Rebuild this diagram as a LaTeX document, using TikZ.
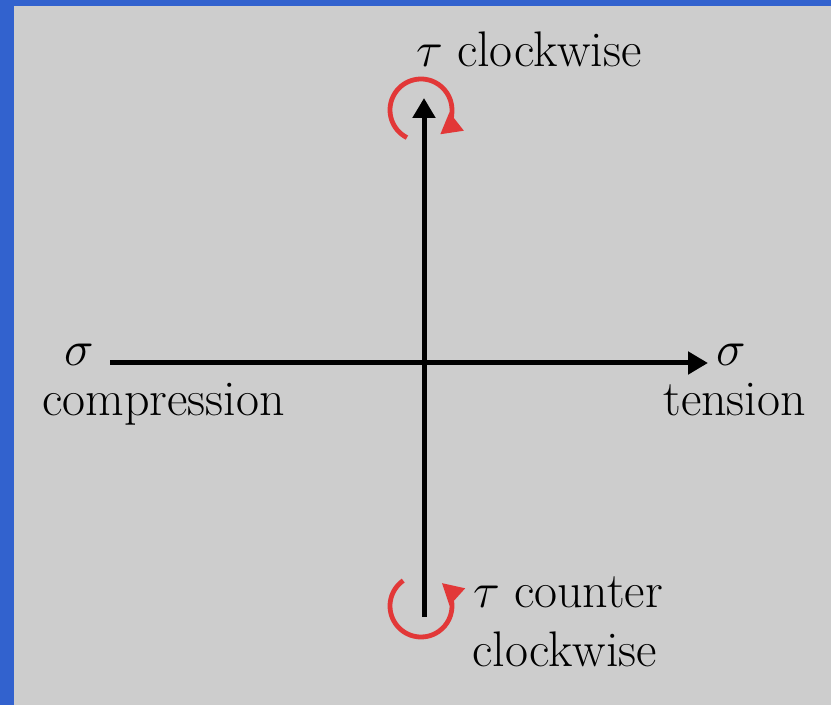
\documentclass[tikz,border=0pt]{standalone}
\usetikzlibrary{arrows.meta}
\definecolor{frameblue}{RGB}{50,98,206}
\definecolor{panelgray}{RGB}{205,205,205}
\definecolor{twistred}{RGB}{226,56,56}
\begin{document}
\begin{tikzpicture}[x=0.5pt, y=-0.5pt,
    axis/.style={line width=2.5pt, -{Triangle[length=10pt,width=11pt]}},
    twist/.style={twistred, line width=2.4pt, -{Triangle[length=10.5pt,width=11pt]}},
    lbl/.style={font=\fontsize{25}{30}\selectfont, inner sep=0pt}]
  \fill[frameblue] (0,0) rectangle (831,705);
  \fill[panelgray] (14,6) rectangle (831,705);

  % axes
  \coordinate (west) at (110,363);
  \coordinate (east) at (708,363);
  \coordinate (south) at (424,617);
  \coordinate (north) at (424,98);
  \draw[axis] (west) -- (east);
  \draw[axis] (south) -- (north);

  % sense of rotation
  \coordinate (cwhub) at (421,110);
  \coordinate (ccwhub) at (421,606);
  \draw[twist] ([shift={(117:31)}]cwhub) arc[start angle=117, end angle=412, radius=31];
  \draw[twist] ([shift={(235:31)}]ccwhub) arc[start angle=235, end angle=-48, radius=31];

  % labels
  \node[lbl, anchor=base west] (tautop) at (416,67) {$\tau$\hspace{0.28em}clockwise};
  \node[lbl, anchor=base west] (taubot) at (473,608) {$\tau$\hspace{0.28em}counter};
  \node[lbl, anchor=base west] (ccw) at (472,667) {clockwise};
  \node[lbl, anchor=base west, text depth=0pt] (sigl) at (64,366) {$\sigma$};
  \node[lbl, anchor=base west, text height=1.5ex] (comp) at (42,416) {compression};
  \node[lbl, anchor=base west, text depth=0pt] (sigr) at (716,366) {$\sigma$};
  \node[lbl, anchor=base west, text height=1.5ex] (tens) at (663,416) {tension};
\end{tikzpicture}
\end{document}
